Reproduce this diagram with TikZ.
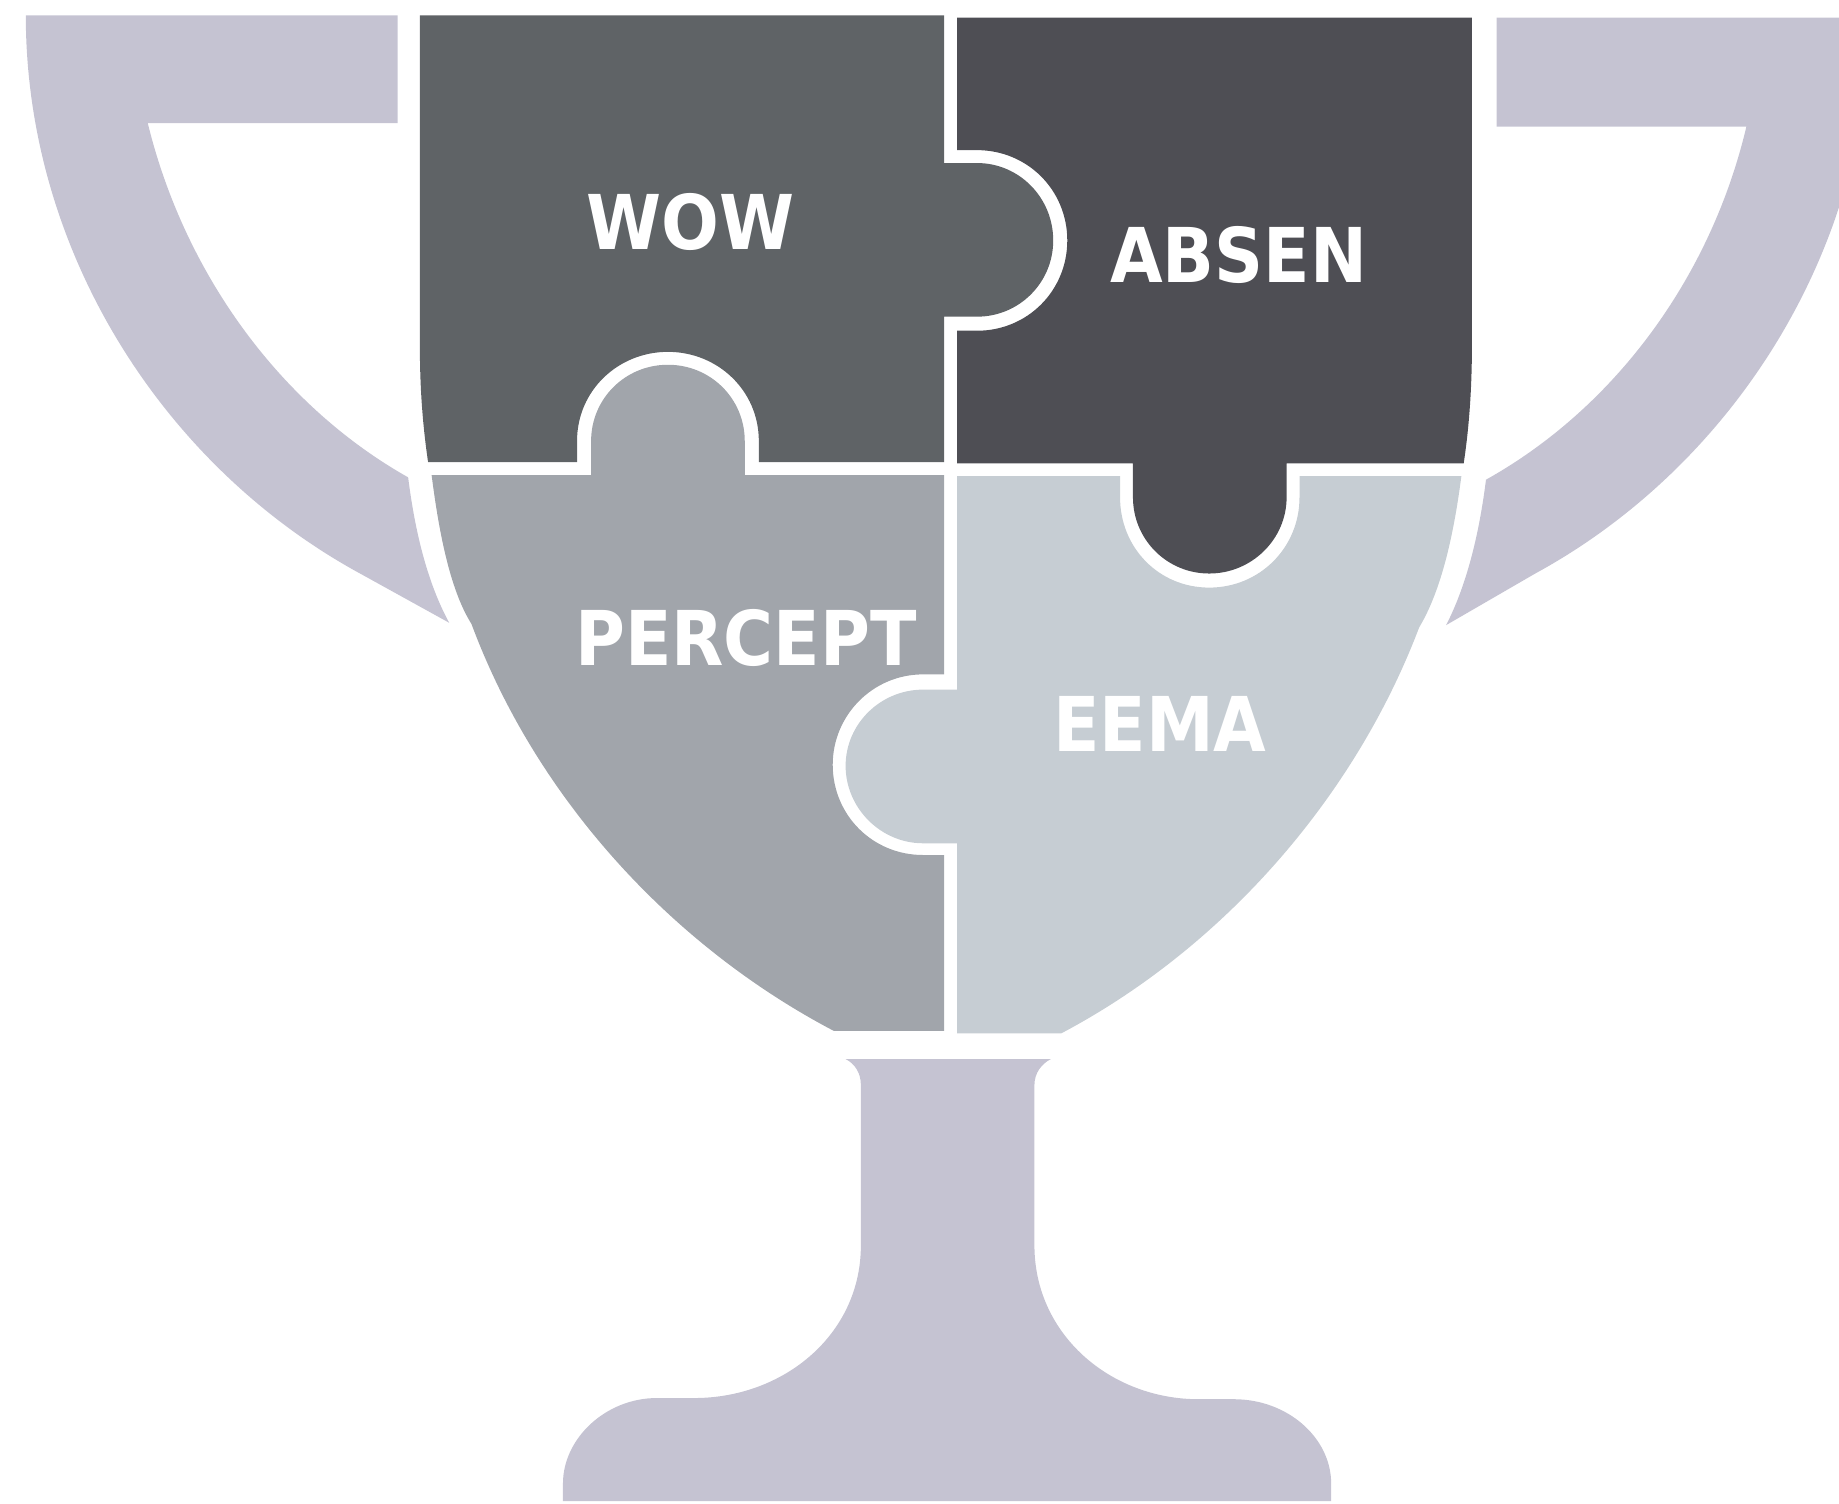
\documentclass[tikz,border=0pt]{standalone}
\usepackage{fontspec}
\setmainfont[FakeStretch=0.9]{DejaVu Sans}
\definecolor{cupgrey}{RGB}{197,195,210}
\definecolor{wowgrey}{RGB}{95,99,102}
\definecolor{absengrey}{RGB}{78,78,84}
\definecolor{perceptgrey}{RGB}{161,165,171}
\definecolor{eemagrey}{RGB}{198,205,211}
\tikzset{every picture/.style={line width=0.75pt}}
\tikzset{piecelabel/.style={anchor=base,inner sep=0pt,text=white,font=\fontsize{56.7}{60}\selectfont\bfseries}}
\begin{document}
\begin{tikzpicture}[x=0.8796pt,y=0.8796pt,yscale=-1,xscale=1]
\useasboundingbox (0,0) rectangle (1568,1282);
%Shape: left handle
\draw [draw=none,fill=cupgrey] (22,13) -- (339,13) -- (339,105) -- (126,105) .. controls (157,232) and (238,345) .. (348,407) .. controls (354,455) and (365,498) .. (383,531) -- (307,489) .. controls (140,398) and (22,215) .. (22,13) -- cycle ;
%Shape: right handle
\draw [draw=none,fill=cupgrey] (1276,15) -- (1594,15) .. controls (1594,215) and (1476,398) .. (1309,489) -- (1233,533) .. controls (1250,500) and (1261,457) .. (1267,409) .. controls (1378,347) and (1459,235) .. (1489,108) -- (1276,108) -- cycle ;
%Shape: wow piece
\draw [draw=none,fill=wowgrey] (358,13) -- (805,13) -- (805,139) -- (833,139) .. controls (869,139) and (898,168.5) .. (898,205) .. controls (898,241) and (869,270) .. (833,270) -- (805,270) -- (805,394) -- (647,394) -- (647,376) .. controls (647,333) and (612,300) .. (569.5,300) .. controls (527,300) and (492,333) .. (492,376) -- (492,394) -- (365,394) .. controls (360,360) and (358,328) .. (358,295) -- cycle ;
%Shape: absen piece
\draw [draw=none,fill=absengrey] (816,15) -- (1255,15) -- (1255,295) .. controls (1255,328) and (1253,362) .. (1248,395) -- (1097,395) -- (1097,424) .. controls (1097,460) and (1067,489) .. (1031,489) .. controls (995,489) and (966,460) .. (966,424) -- (966,395) -- (816,395) -- (816,282) -- (833,282) .. controls (876,282) and (910,248) .. (910,205) .. controls (910,162) and (876,128) .. (833,128) -- (816,128) -- cycle ;
%Shape: percept piece
\draw [draw=none,fill=perceptgrey] (368,405) -- (504,405) -- (504,376) .. controls (504,340) and (533,311) .. (569.5,311) .. controls (606,311) and (635,340) .. (635,376) -- (635,405) -- (805,405) -- (805,575) -- (787,575) .. controls (744,575) and (710,610) .. (710,652) .. controls (710,695) and (744,729) .. (787,729) -- (805,729) -- (805,879) -- (711,879) .. controls (572,806) and (457,680) .. (402,532) .. controls (385,505) and (375,460) .. (368,405) -- cycle ;
%Shape: eema piece
\draw [draw=none,fill=eemagrey] (816,406) -- (955,406) -- (955,424) .. controls (955,467) and (988,501) .. (1031,501) .. controls (1074,501) and (1108,467) .. (1108,424) -- (1108,406) -- (1246,406) .. controls (1239,460) and (1228,505) .. (1210,535) .. controls (1155,680) and (1043,808) .. (905,881) -- (816,881) -- (816,719) -- (787,719) .. controls (751,719) and (721,689) .. (721,653) .. controls (721,617) and (751,588) .. (787,588) -- (816,588) -- cycle ;
%Shape: stem and foot
\draw [draw=none,fill=cupgrey] (721,903) -- (896,903) .. controls (888,907) and (882,915) .. (882,925) -- (882,1062) .. controls (882,1138) and (947,1193) .. (1022,1193) -- (1052,1193) .. controls (1098,1193) and (1135,1226) .. (1135,1265) -- (1135,1280) -- (480,1280) -- (480,1265) .. controls (480,1226) and (517,1192) .. (560,1192) -- (592,1192) .. controls (668,1192) and (734,1138) .. (734,1062) -- (734,925) .. controls (734,915) and (729,907) .. (721,903) -- cycle ;
% Text Node
\node (wow) [piecelabel] at (589,213) {WOW};
% Text Node
\node (absen) [piecelabel] at (1056,241) {ABSEN};
% Text Node
\node (percept) [piecelabel] at (636,567) {PERCEPT};
% Text Node
\node (eema) [piecelabel] at (989,641) {EEMA};
\end{tikzpicture}
\end{document}
